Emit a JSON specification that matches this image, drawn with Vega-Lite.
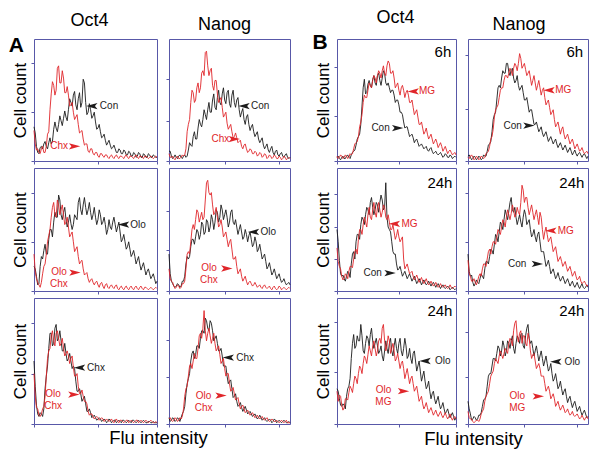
{
"$schema":"https://vega.github.io/schema/vega-lite/v6.json",
"background":"white",
"padding":{"left":8,"top":8,"right":5,"bottom":5},
"config":{
 "font":"Liberation Sans",
 "view":{"stroke":"#5858a8","strokeWidth":1},
 "axis":{"grid":false,"labels":false,"domain":false,"tickColor":"#5858a8","tickSize":3,"tickWidth":1,"titleFontWeight":"normal","titleColor":"#000","titleFontSize":17,"titlePadding":1,"titleFont":"Liberation Sans"},
 "title":{"fontSize":18,"fontWeight":"normal","baseline":"alphabetic","offset":5,"color":"#000","font":"Liberation Sans"}
},
"datasets":{
"a11":[{"x":0,"k":28,"r":25},{"x":1,"k":23,"r":14},{"x":2,"k":12,"r":9},{"x":3,"k":7,"r":10},{"x":4,"k":6,"r":7},{"x":5,"k":11,"r":6},{"x":6,"k":12,"r":10},{"x":7,"k":10,"r":12},{"x":8,"k":14,"r":7},{"x":9,"k":16,"r":7},{"x":10,"k":12,"r":12},{"x":11,"k":10,"r":22},{"x":12,"k":15,"r":24},{"x":13,"k":19,"r":42},{"x":14,"k":14,"r":55},{"x":15,"k":16,"r":65},{"x":16,"k":26,"r":62},{"x":17,"k":32,"r":54},{"x":18,"k":27,"r":58},{"x":19,"k":24,"r":76},{"x":20,"k":30,"r":78},{"x":21,"k":37,"r":64},{"x":22,"k":33,"r":64},{"x":23,"k":29,"r":74},{"x":24,"k":35,"r":68},{"x":25,"k":41,"r":56},{"x":26,"k":36,"r":56},{"x":27,"k":33,"r":61},{"x":28,"k":42,"r":54},{"x":29,"k":51,"r":45},{"x":30,"k":48,"r":46},{"x":31,"k":45,"r":48},{"x":32,"k":54,"r":40},{"x":33,"k":57,"r":34},{"x":34,"k":46,"r":36},{"x":35,"k":42,"r":38},{"x":36,"k":51,"r":30},{"x":37,"k":56,"r":23},{"x":38,"k":44,"r":24},{"x":39,"k":48,"r":25},{"x":40,"k":67,"r":18},{"x":41,"k":64,"r":13},{"x":42,"k":48,"r":14},{"x":43,"k":38,"r":14},{"x":44,"k":40,"r":8},{"x":45,"k":47,"r":7},{"x":46,"k":42,"r":10},{"x":47,"k":35,"r":10},{"x":48,"k":37,"r":6},{"x":49,"k":40,"r":5},{"x":50,"k":32,"r":7},{"x":51,"k":26,"r":7},{"x":52,"k":27,"r":4},{"x":53,"k":30,"r":3},{"x":54,"k":24,"r":6},{"x":55,"k":19,"r":6},{"x":56,"k":20,"r":4},{"x":57,"k":22,"r":3},{"x":58,"k":17,"r":5},{"x":59,"k":13,"r":5},{"x":60,"k":15,"r":3},{"x":61,"k":17,"r":2},{"x":62,"k":13,"r":4},{"x":63,"k":10,"r":5},{"x":64,"k":11,"r":3},{"x":65,"k":13,"r":2},{"x":66,"k":10,"r":4},{"x":67,"k":7,"r":5},{"x":68,"k":7,"r":3},{"x":69,"k":10,"r":2},{"x":70,"k":9,"r":4},{"x":71,"k":6,"r":4},{"x":72,"k":6,"r":3},{"x":73,"k":9,"r":2},{"x":74,"k":8,"r":4},{"x":75,"k":5,"r":5},{"x":76,"k":5,"r":3},{"x":77,"k":8,"r":2},{"x":78,"k":7,"r":4},{"x":79,"k":4,"r":4},{"x":80,"k":4,"r":3},{"x":81,"k":7,"r":2},{"x":82,"k":6,"r":4},{"x":83,"k":3,"r":5},{"x":84,"k":4,"r":3},{"x":85,"k":7,"r":2},{"x":86,"k":6,"r":4},{"x":87,"k":3,"r":4},{"x":88,"k":3,"r":3},{"x":89,"k":6,"r":2},{"x":90,"k":5,"r":4},{"x":91,"k":3,"r":4},{"x":92,"k":3,"r":3},{"x":93,"k":6,"r":2},{"x":94,"k":5,"r":3},{"x":95,"k":3,"r":4},{"x":96,"k":3,"r":3},{"x":97,"k":5,"r":2},{"x":98,"k":4,"r":3},{"x":99,"k":3,"r":4},{"x":100,"k":3,"r":3}],
"a12":[{"x":0,"k":8,"r":6},{"x":1,"k":8,"r":3},{"x":2,"k":4,"r":3},{"x":3,"k":2,"r":4},{"x":4,"k":3,"r":2},{"x":5,"k":5,"r":1},{"x":6,"k":3,"r":3},{"x":7,"k":2,"r":4},{"x":8,"k":4,"r":2},{"x":9,"k":5,"r":2},{"x":10,"k":3,"r":3},{"x":11,"k":2,"r":5},{"x":12,"k":4,"r":4},{"x":13,"k":5,"r":5},{"x":14,"k":3,"r":10},{"x":15,"k":4,"r":24},{"x":16,"k":9,"r":30},{"x":17,"k":15,"r":34},{"x":18,"k":13,"r":48},{"x":19,"k":12,"r":58},{"x":20,"k":20,"r":56},{"x":21,"k":24,"r":48},{"x":22,"k":18,"r":50},{"x":23,"k":18,"r":60},{"x":24,"k":27,"r":64},{"x":25,"k":34,"r":56},{"x":26,"k":30,"r":60},{"x":27,"k":28,"r":72},{"x":28,"k":34,"r":74},{"x":29,"k":42,"r":70},{"x":30,"k":38,"r":89},{"x":31,"k":34,"r":90},{"x":32,"k":42,"r":78},{"x":33,"k":48,"r":70},{"x":34,"k":40,"r":74},{"x":35,"k":40,"r":76},{"x":36,"k":50,"r":62},{"x":37,"k":55,"r":58},{"x":38,"k":44,"r":66},{"x":39,"k":42,"r":66},{"x":40,"k":52,"r":55},{"x":41,"k":58,"r":48},{"x":42,"k":48,"r":50},{"x":43,"k":46,"r":52},{"x":44,"k":55,"r":44},{"x":45,"k":60,"r":36},{"x":46,"k":50,"r":38},{"x":47,"k":47,"r":40},{"x":48,"k":56,"r":31},{"x":49,"k":58,"r":26},{"x":50,"k":47,"r":28},{"x":51,"k":44,"r":30},{"x":52,"k":54,"r":24},{"x":53,"k":58,"r":19},{"x":54,"k":48,"r":20},{"x":55,"k":44,"r":23},{"x":56,"k":50,"r":19},{"x":57,"k":52,"r":15},{"x":58,"k":42,"r":16},{"x":59,"k":36,"r":17},{"x":60,"k":40,"r":12},{"x":61,"k":43,"r":10},{"x":62,"k":34,"r":13},{"x":63,"k":30,"r":14},{"x":64,"k":36,"r":10},{"x":65,"k":38,"r":7},{"x":66,"k":30,"r":8},{"x":67,"k":25,"r":10},{"x":68,"k":28,"r":9},{"x":69,"k":30,"r":6},{"x":70,"k":24,"r":6},{"x":71,"k":20,"r":8},{"x":72,"k":22,"r":7},{"x":73,"k":24,"r":4},{"x":74,"k":18,"r":5},{"x":75,"k":15,"r":7},{"x":76,"k":17,"r":6},{"x":77,"k":19,"r":3},{"x":78,"k":13,"r":4},{"x":79,"k":10,"r":6},{"x":80,"k":12,"r":5},{"x":81,"k":14,"r":2},{"x":82,"k":9,"r":3},{"x":83,"k":7,"r":5},{"x":84,"k":10,"r":4},{"x":85,"k":12,"r":2},{"x":86,"k":7,"r":3},{"x":87,"k":5,"r":5},{"x":88,"k":8,"r":4},{"x":89,"k":9,"r":2},{"x":90,"k":5,"r":2},{"x":91,"k":4,"r":4},{"x":92,"k":6,"r":3},{"x":93,"k":7,"r":1},{"x":94,"k":4,"r":2},{"x":95,"k":3,"r":4},{"x":96,"k":5,"r":3},{"x":97,"k":6,"r":1},{"x":98,"k":3,"r":2},{"x":99,"k":2,"r":3},{"x":100,"k":3,"r":2}],
"b11":[{"x":0,"k":3,"r":4},{"x":1,"k":4,"r":2},{"x":2,"k":2,"r":3},{"x":3,"k":1,"r":5},{"x":4,"k":3,"r":4},{"x":5,"k":4,"r":2},{"x":6,"k":2,"r":3},{"x":7,"k":2,"r":5},{"x":8,"k":4,"r":4},{"x":9,"k":5,"r":2},{"x":10,"k":3,"r":3},{"x":11,"k":2,"r":6},{"x":12,"k":5,"r":5},{"x":13,"k":7,"r":6},{"x":14,"k":8,"r":10},{"x":15,"k":9,"r":14},{"x":16,"k":13,"r":15},{"x":17,"k":18,"r":16},{"x":18,"k":20,"r":20},{"x":19,"k":22,"r":28},{"x":20,"k":30,"r":32},{"x":21,"k":45,"r":38},{"x":22,"k":60,"r":48},{"x":23,"k":67,"r":54},{"x":24,"k":55,"r":52},{"x":25,"k":56,"r":52},{"x":26,"k":63,"r":58},{"x":27,"k":66,"r":64},{"x":28,"k":62,"r":62},{"x":29,"k":60,"r":60},{"x":30,"k":67,"r":66},{"x":31,"k":70,"r":70},{"x":32,"k":64,"r":68},{"x":33,"k":62,"r":64},{"x":34,"k":70,"r":70},{"x":35,"k":72,"r":74},{"x":36,"k":66,"r":72},{"x":37,"k":62,"r":68},{"x":38,"k":68,"r":74},{"x":39,"k":74,"r":78},{"x":40,"k":72,"r":72},{"x":41,"k":64,"r":70},{"x":42,"k":62,"r":78},{"x":43,"k":64,"r":82},{"x":44,"k":60,"r":80},{"x":45,"k":56,"r":72},{"x":46,"k":58,"r":72},{"x":47,"k":58,"r":74},{"x":48,"k":54,"r":68},{"x":49,"k":48,"r":60},{"x":50,"k":50,"r":62},{"x":51,"k":50,"r":64},{"x":52,"k":46,"r":58},{"x":53,"k":40,"r":54},{"x":54,"k":40,"r":60},{"x":55,"k":38,"r":62},{"x":56,"k":32,"r":58},{"x":57,"k":27,"r":52},{"x":58,"k":28,"r":56},{"x":59,"k":28,"r":58},{"x":60,"k":24,"r":54},{"x":61,"k":20,"r":48},{"x":62,"k":21,"r":48},{"x":63,"k":22,"r":50},{"x":64,"k":19,"r":44},{"x":65,"k":15,"r":38},{"x":66,"k":17,"r":40},{"x":67,"k":18,"r":42},{"x":68,"k":15,"r":36},{"x":69,"k":12,"r":30},{"x":70,"k":13,"r":30},{"x":71,"k":14,"r":32},{"x":72,"k":12,"r":27},{"x":73,"k":10,"r":22},{"x":74,"k":11,"r":24},{"x":75,"k":12,"r":27},{"x":76,"k":9,"r":22},{"x":77,"k":8,"r":18},{"x":78,"k":10,"r":20},{"x":79,"k":11,"r":22},{"x":80,"k":8,"r":18},{"x":81,"k":6,"r":14},{"x":82,"k":7,"r":16},{"x":83,"k":8,"r":18},{"x":84,"k":6,"r":15},{"x":85,"k":5,"r":11},{"x":86,"k":6,"r":13},{"x":87,"k":7,"r":15},{"x":88,"k":5,"r":12},{"x":89,"k":3,"r":8},{"x":90,"k":4,"r":10},{"x":91,"k":6,"r":12},{"x":92,"k":5,"r":9},{"x":93,"k":3,"r":6},{"x":94,"k":3,"r":8},{"x":95,"k":5,"r":9},{"x":96,"k":4,"r":7},{"x":97,"k":2,"r":5},{"x":98,"k":3,"r":6},{"x":99,"k":4,"r":7},{"x":100,"k":3,"r":5}],
"b12":[{"x":0,"k":4,"r":3},{"x":1,"k":5,"r":2},{"x":2,"k":3,"r":4},{"x":3,"k":1,"r":5},{"x":4,"k":2,"r":3},{"x":5,"k":4,"r":1},{"x":6,"k":3,"r":2},{"x":7,"k":1,"r":4},{"x":8,"k":2,"r":3},{"x":9,"k":4,"r":1},{"x":10,"k":3,"r":2},{"x":11,"k":1,"r":4},{"x":12,"k":2,"r":3},{"x":13,"k":5,"r":2},{"x":14,"k":4,"r":3},{"x":15,"k":4,"r":6},{"x":16,"k":8,"r":7},{"x":17,"k":13,"r":8},{"x":18,"k":14,"r":12},{"x":19,"k":16,"r":18},{"x":20,"k":24,"r":20},{"x":21,"k":34,"r":26},{"x":22,"k":38,"r":36},{"x":23,"k":40,"r":42},{"x":24,"k":50,"r":44},{"x":25,"k":60,"r":46},{"x":26,"k":62,"r":52},{"x":27,"k":60,"r":58},{"x":28,"k":68,"r":60},{"x":29,"k":74,"r":60},{"x":30,"k":72,"r":66},{"x":31,"k":72,"r":70},{"x":32,"k":80,"r":70},{"x":33,"k":80,"r":68},{"x":34,"k":73,"r":72},{"x":35,"k":70,"r":76},{"x":36,"k":75,"r":74},{"x":37,"k":76,"r":70},{"x":38,"k":68,"r":76},{"x":39,"k":64,"r":80},{"x":40,"k":66,"r":78},{"x":41,"k":70,"r":74},{"x":42,"k":62,"r":80},{"x":43,"k":58,"r":88},{"x":44,"k":60,"r":84},{"x":45,"k":62,"r":76},{"x":46,"k":56,"r":78},{"x":47,"k":50,"r":80},{"x":48,"k":50,"r":75},{"x":49,"k":52,"r":70},{"x":50,"k":46,"r":72},{"x":51,"k":40,"r":74},{"x":52,"k":42,"r":68},{"x":53,"k":42,"r":62},{"x":54,"k":36,"r":66},{"x":55,"k":30,"r":70},{"x":56,"k":30,"r":64},{"x":57,"k":32,"r":58},{"x":58,"k":28,"r":62},{"x":59,"k":24,"r":66},{"x":60,"k":26,"r":60},{"x":61,"k":28,"r":54},{"x":62,"k":23,"r":58},{"x":63,"k":20,"r":60},{"x":64,"k":22,"r":52},{"x":65,"k":24,"r":46},{"x":66,"k":20,"r":48},{"x":67,"k":16,"r":50},{"x":68,"k":18,"r":44},{"x":69,"k":20,"r":38},{"x":70,"k":17,"r":40},{"x":71,"k":14,"r":42},{"x":72,"k":16,"r":34},{"x":73,"k":18,"r":28},{"x":74,"k":14,"r":30},{"x":75,"k":11,"r":32},{"x":76,"k":13,"r":27},{"x":77,"k":15,"r":22},{"x":78,"k":12,"r":26},{"x":79,"k":9,"r":28},{"x":80,"k":11,"r":22},{"x":81,"k":13,"r":18},{"x":82,"k":10,"r":20},{"x":83,"k":7,"r":22},{"x":84,"k":9,"r":18},{"x":85,"k":11,"r":14},{"x":86,"k":8,"r":16},{"x":87,"k":5,"r":18},{"x":88,"k":7,"r":14},{"x":89,"k":9,"r":10},{"x":90,"k":6,"r":12},{"x":91,"k":4,"r":14},{"x":92,"k":6,"r":11},{"x":93,"k":7,"r":8},{"x":94,"k":5,"r":9},{"x":95,"k":3,"r":11},{"x":96,"k":5,"r":8},{"x":97,"k":6,"r":6},{"x":98,"k":4,"r":7},{"x":99,"k":2,"r":8},{"x":100,"k":4,"r":6}],
"a21":[{"x":0,"k":20,"r":30},{"x":1,"k":18,"r":16},{"x":2,"k":12,"r":10},{"x":3,"k":5,"r":7},{"x":4,"k":6,"r":5},{"x":5,"k":20,"r":3},{"x":6,"k":28,"r":7},{"x":7,"k":26,"r":14},{"x":8,"k":33,"r":20},{"x":9,"k":38,"r":22},{"x":10,"k":30,"r":30},{"x":11,"k":30,"r":40},{"x":12,"k":42,"r":45},{"x":13,"k":50,"r":50},{"x":14,"k":50,"r":60},{"x":15,"k":44,"r":68},{"x":16,"k":56,"r":72},{"x":17,"k":64,"r":62},{"x":18,"k":60,"r":60},{"x":19,"k":60,"r":74},{"x":20,"k":78,"r":70},{"x":21,"k":74,"r":62},{"x":22,"k":62,"r":66},{"x":23,"k":58,"r":70},{"x":24,"k":64,"r":62},{"x":25,"k":68,"r":54},{"x":26,"k":58,"r":56},{"x":27,"k":52,"r":60},{"x":28,"k":56,"r":52},{"x":29,"k":62,"r":44},{"x":30,"k":55,"r":46},{"x":31,"k":50,"r":48},{"x":32,"k":54,"r":40},{"x":33,"k":62,"r":32},{"x":34,"k":60,"r":34},{"x":35,"k":58,"r":36},{"x":36,"k":72,"r":28},{"x":37,"k":76,"r":22},{"x":38,"k":66,"r":24},{"x":39,"k":62,"r":25},{"x":40,"k":70,"r":18},{"x":41,"k":76,"r":13},{"x":42,"k":68,"r":14},{"x":43,"k":62,"r":15},{"x":44,"k":66,"r":10},{"x":45,"k":72,"r":7},{"x":46,"k":64,"r":9},{"x":47,"k":58,"r":10},{"x":48,"k":62,"r":7},{"x":49,"k":68,"r":5},{"x":50,"k":60,"r":7},{"x":51,"k":54,"r":8},{"x":52,"k":58,"r":5},{"x":53,"k":66,"r":3},{"x":54,"k":62,"r":6},{"x":55,"k":54,"r":7},{"x":56,"k":56,"r":4},{"x":57,"k":60,"r":2},{"x":58,"k":54,"r":5},{"x":59,"k":46,"r":6},{"x":60,"k":50,"r":3},{"x":61,"k":58,"r":2},{"x":62,"k":52,"r":4},{"x":63,"k":50,"r":5},{"x":64,"k":56,"r":3},{"x":65,"k":60,"r":2},{"x":66,"k":54,"r":4},{"x":67,"k":48,"r":5},{"x":68,"k":52,"r":2},{"x":69,"k":56,"r":1},{"x":70,"k":48,"r":3},{"x":71,"k":40,"r":4},{"x":72,"k":42,"r":2},{"x":73,"k":46,"r":1},{"x":74,"k":40,"r":3},{"x":75,"k":34,"r":4},{"x":76,"k":36,"r":2},{"x":77,"k":40,"r":1},{"x":78,"k":34,"r":3},{"x":79,"k":28,"r":4},{"x":80,"k":30,"r":2},{"x":81,"k":33,"r":1},{"x":82,"k":28,"r":3},{"x":83,"k":22,"r":4},{"x":84,"k":25,"r":2},{"x":85,"k":28,"r":1},{"x":86,"k":22,"r":3},{"x":87,"k":17,"r":4},{"x":88,"k":20,"r":2},{"x":89,"k":23,"r":1},{"x":90,"k":18,"r":3},{"x":91,"k":13,"r":3},{"x":92,"k":16,"r":2},{"x":93,"k":18,"r":1},{"x":94,"k":14,"r":2},{"x":95,"k":10,"r":3},{"x":96,"k":12,"r":2},{"x":97,"k":14,"r":1},{"x":98,"k":10,"r":2},{"x":99,"k":6,"r":3},{"x":100,"k":8,"r":2}],
"a22":[{"x":0,"k":30,"r":18},{"x":1,"k":14,"r":10},{"x":2,"k":8,"r":8},{"x":3,"k":6,"r":7},{"x":4,"k":4,"r":4},{"x":5,"k":3,"r":2},{"x":6,"k":4,"r":3},{"x":7,"k":6,"r":5},{"x":8,"k":5,"r":4},{"x":9,"k":3,"r":2},{"x":10,"k":4,"r":3},{"x":11,"k":8,"r":6},{"x":12,"k":8,"r":6},{"x":13,"k":12,"r":8},{"x":14,"k":22,"r":18},{"x":15,"k":28,"r":30},{"x":16,"k":26,"r":32},{"x":17,"k":28,"r":30},{"x":18,"k":36,"r":40},{"x":19,"k":42,"r":50},{"x":20,"k":42,"r":54},{"x":21,"k":38,"r":50},{"x":22,"k":44,"r":58},{"x":23,"k":50,"r":66},{"x":24,"k":48,"r":64},{"x":25,"k":42,"r":56},{"x":26,"k":46,"r":60},{"x":27,"k":56,"r":64},{"x":28,"k":54,"r":58},{"x":29,"k":46,"r":60},{"x":30,"k":48,"r":74},{"x":31,"k":58,"r":88},{"x":32,"k":56,"r":90},{"x":33,"k":48,"r":80},{"x":34,"k":52,"r":78},{"x":35,"k":62,"r":80},{"x":36,"k":58,"r":70},{"x":37,"k":50,"r":62},{"x":38,"k":56,"r":64},{"x":39,"k":66,"r":68},{"x":40,"k":64,"r":60},{"x":41,"k":56,"r":52},{"x":42,"k":60,"r":54},{"x":43,"k":70,"r":58},{"x":44,"k":66,"r":52},{"x":45,"k":58,"r":44},{"x":46,"k":62,"r":46},{"x":47,"k":66,"r":48},{"x":48,"k":60,"r":42},{"x":49,"k":52,"r":36},{"x":50,"k":56,"r":40},{"x":51,"k":64,"r":42},{"x":52,"k":66,"r":34},{"x":53,"k":56,"r":26},{"x":54,"k":54,"r":26},{"x":55,"k":58,"r":28},{"x":56,"k":52,"r":20},{"x":57,"k":46,"r":14},{"x":58,"k":50,"r":16},{"x":59,"k":54,"r":18},{"x":60,"k":48,"r":12},{"x":61,"k":42,"r":8},{"x":62,"k":44,"r":10},{"x":63,"k":50,"r":12},{"x":64,"k":46,"r":8},{"x":65,"k":40,"r":5},{"x":66,"k":45,"r":7},{"x":67,"k":48,"r":8},{"x":68,"k":42,"r":6},{"x":69,"k":36,"r":4},{"x":70,"k":38,"r":5},{"x":71,"k":44,"r":7},{"x":72,"k":40,"r":5},{"x":73,"k":32,"r":3},{"x":74,"k":34,"r":4},{"x":75,"k":38,"r":5},{"x":76,"k":32,"r":3},{"x":77,"k":26,"r":2},{"x":78,"k":28,"r":4},{"x":79,"k":30,"r":5},{"x":80,"k":24,"r":3},{"x":81,"k":18,"r":2},{"x":82,"k":20,"r":3},{"x":83,"k":23,"r":4},{"x":84,"k":18,"r":2},{"x":85,"k":13,"r":1},{"x":86,"k":15,"r":3},{"x":87,"k":18,"r":4},{"x":88,"k":14,"r":2},{"x":89,"k":10,"r":1},{"x":90,"k":12,"r":2},{"x":91,"k":14,"r":4},{"x":92,"k":10,"r":3},{"x":93,"k":7,"r":1},{"x":94,"k":8,"r":2},{"x":95,"k":10,"r":3},{"x":96,"k":7,"r":2},{"x":97,"k":5,"r":1},{"x":98,"k":6,"r":2},{"x":99,"k":7,"r":3},{"x":100,"k":5,"r":2}],
"b21":[{"x":0,"k":50,"r":35},{"x":1,"k":40,"r":24},{"x":2,"k":25,"r":20},{"x":3,"k":14,"r":18},{"x":4,"k":12,"r":12},{"x":5,"k":13,"r":9},{"x":6,"k":10,"r":10},{"x":7,"k":8,"r":14},{"x":8,"k":12,"r":13},{"x":9,"k":16,"r":10},{"x":10,"k":15,"r":16},{"x":11,"k":11,"r":20},{"x":12,"k":22,"r":20},{"x":13,"k":30,"r":19},{"x":14,"k":32,"r":26},{"x":15,"k":26,"r":32},{"x":16,"k":40,"r":34},{"x":17,"k":46,"r":30},{"x":18,"k":46,"r":42},{"x":19,"k":42,"r":50},{"x":20,"k":54,"r":50},{"x":21,"k":60,"r":46},{"x":22,"k":58,"r":54},{"x":23,"k":54,"r":60},{"x":24,"k":62,"r":56},{"x":25,"k":68,"r":52},{"x":26,"k":66,"r":62},{"x":27,"k":62,"r":68},{"x":28,"k":72,"r":60},{"x":29,"k":76,"r":58},{"x":30,"k":68,"r":66},{"x":31,"k":62,"r":72},{"x":32,"k":66,"r":64},{"x":33,"k":72,"r":60},{"x":34,"k":70,"r":68},{"x":35,"k":64,"r":72},{"x":36,"k":72,"r":66},{"x":37,"k":78,"r":60},{"x":38,"k":74,"r":64},{"x":39,"k":66,"r":70},{"x":40,"k":68,"r":68},{"x":41,"k":88,"r":60},{"x":42,"k":60,"r":58},{"x":43,"k":52,"r":62},{"x":44,"k":50,"r":56},{"x":45,"k":48,"r":50},{"x":46,"k":40,"r":50},{"x":47,"k":32,"r":54},{"x":48,"k":30,"r":48},{"x":49,"k":30,"r":42},{"x":50,"k":22,"r":45},{"x":51,"k":17,"r":50},{"x":52,"k":18,"r":44},{"x":53,"k":20,"r":40},{"x":54,"k":16,"r":42},{"x":55,"k":12,"r":44},{"x":56,"k":14,"r":26},{"x":57,"k":16,"r":18},{"x":58,"k":13,"r":20},{"x":59,"k":10,"r":22},{"x":60,"k":12,"r":18},{"x":61,"k":14,"r":14},{"x":62,"k":11,"r":15},{"x":63,"k":8,"r":16},{"x":64,"k":10,"r":12},{"x":65,"k":12,"r":9},{"x":66,"k":9,"r":11},{"x":67,"k":6,"r":13},{"x":68,"k":8,"r":10},{"x":69,"k":10,"r":7},{"x":70,"k":8,"r":9},{"x":71,"k":5,"r":11},{"x":72,"k":7,"r":8},{"x":73,"k":9,"r":6},{"x":74,"k":7,"r":8},{"x":75,"k":5,"r":10},{"x":76,"k":6,"r":7},{"x":77,"k":8,"r":5},{"x":78,"k":6,"r":6},{"x":79,"k":4,"r":8},{"x":80,"k":6,"r":6},{"x":81,"k":7,"r":4},{"x":82,"k":5,"r":5},{"x":83,"k":3,"r":7},{"x":84,"k":5,"r":5},{"x":85,"k":6,"r":3},{"x":86,"k":4,"r":4},{"x":87,"k":2,"r":6},{"x":88,"k":4,"r":4},{"x":89,"k":5,"r":3},{"x":90,"k":3,"r":4},{"x":91,"k":2,"r":5},{"x":92,"k":3,"r":3},{"x":93,"k":4,"r":2},{"x":94,"k":3,"r":3},{"x":95,"k":1,"r":5},{"x":96,"k":2,"r":3},{"x":97,"k":3,"r":2},{"x":98,"k":2,"r":3},{"x":99,"k":1,"r":4},{"x":100,"k":2,"r":3}],
"b22":[{"x":0,"k":30,"r":25},{"x":1,"k":16,"r":14},{"x":2,"k":12,"r":12},{"x":3,"k":13,"r":8},{"x":4,"k":7,"r":8},{"x":5,"k":4,"r":10},{"x":6,"k":6,"r":7},{"x":7,"k":9,"r":5},{"x":8,"k":7,"r":8},{"x":9,"k":6,"r":12},{"x":10,"k":10,"r":14},{"x":11,"k":14,"r":12},{"x":12,"k":12,"r":18},{"x":13,"k":10,"r":22},{"x":14,"k":18,"r":22},{"x":15,"k":24,"r":20},{"x":16,"k":24,"r":26},{"x":17,"k":22,"r":32},{"x":18,"k":28,"r":34},{"x":19,"k":34,"r":30},{"x":20,"k":33,"r":36},{"x":21,"k":30,"r":40},{"x":22,"k":38,"r":40},{"x":23,"k":46,"r":38},{"x":24,"k":44,"r":44},{"x":25,"k":40,"r":50},{"x":26,"k":48,"r":48},{"x":27,"k":56,"r":46},{"x":28,"k":54,"r":52},{"x":29,"k":50,"r":58},{"x":30,"k":58,"r":56},{"x":31,"k":66,"r":52},{"x":32,"k":62,"r":60},{"x":33,"k":58,"r":66},{"x":34,"k":65,"r":62},{"x":35,"k":72,"r":58},{"x":36,"k":76,"r":63},{"x":37,"k":66,"r":70},{"x":38,"k":64,"r":66},{"x":39,"k":68,"r":60},{"x":40,"k":60,"r":62},{"x":41,"k":54,"r":68},{"x":42,"k":58,"r":64},{"x":43,"k":62,"r":62},{"x":44,"k":56,"r":72},{"x":45,"k":52,"r":86},{"x":46,"k":60,"r":82},{"x":47,"k":66,"r":72},{"x":48,"k":62,"r":76},{"x":49,"k":54,"r":76},{"x":50,"k":56,"r":68},{"x":51,"k":58,"r":62},{"x":52,"k":50,"r":66},{"x":53,"k":44,"r":70},{"x":54,"k":46,"r":64},{"x":55,"k":50,"r":58},{"x":56,"k":44,"r":62},{"x":57,"k":40,"r":66},{"x":58,"k":46,"r":60},{"x":59,"k":48,"r":54},{"x":60,"k":40,"r":64},{"x":61,"k":32,"r":60},{"x":62,"k":32,"r":50},{"x":63,"k":32,"r":42},{"x":64,"k":26,"r":48},{"x":65,"k":20,"r":52},{"x":66,"k":22,"r":46},{"x":67,"k":25,"r":40},{"x":68,"k":20,"r":42},{"x":69,"k":14,"r":44},{"x":70,"k":16,"r":38},{"x":71,"k":18,"r":32},{"x":72,"k":14,"r":34},{"x":73,"k":10,"r":36},{"x":74,"k":12,"r":30},{"x":75,"k":15,"r":24},{"x":76,"k":11,"r":26},{"x":77,"k":8,"r":28},{"x":78,"k":10,"r":24},{"x":79,"k":12,"r":20},{"x":80,"k":9,"r":22},{"x":81,"k":6,"r":24},{"x":82,"k":8,"r":20},{"x":83,"k":10,"r":16},{"x":84,"k":7,"r":18},{"x":85,"k":4,"r":20},{"x":86,"k":6,"r":16},{"x":87,"k":8,"r":12},{"x":88,"k":5,"r":14},{"x":89,"k":3,"r":16},{"x":90,"k":5,"r":12},{"x":91,"k":7,"r":9},{"x":92,"k":4,"r":10},{"x":93,"k":2,"r":12},{"x":94,"k":4,"r":8},{"x":95,"k":6,"r":6},{"x":96,"k":3,"r":7},{"x":97,"k":2,"r":8},{"x":98,"k":3,"r":6},{"x":99,"k":5,"r":4},{"x":100,"k":3,"r":5}],
"a31":[{"x":0,"k":50,"r":40},{"x":1,"k":30,"r":22},{"x":2,"k":15,"r":13},{"x":3,"k":8,"r":12},{"x":4,"k":6,"r":7},{"x":5,"k":9,"r":6},{"x":6,"k":8,"r":8},{"x":7,"k":6,"r":12},{"x":8,"k":12,"r":14},{"x":9,"k":28,"r":22},{"x":10,"k":38,"r":38},{"x":11,"k":46,"r":52},{"x":12,"k":60,"r":58},{"x":13,"k":72,"r":60},{"x":14,"k":72,"r":70},{"x":15,"k":62,"r":74},{"x":16,"k":64,"r":66},{"x":17,"k":76,"r":62},{"x":18,"k":79,"r":72},{"x":19,"k":66,"r":74},{"x":20,"k":68,"r":68},{"x":21,"k":74,"r":62},{"x":22,"k":66,"r":64},{"x":23,"k":58,"r":68},{"x":24,"k":58,"r":60},{"x":25,"k":64,"r":54},{"x":26,"k":56,"r":56},{"x":27,"k":50,"r":58},{"x":28,"k":52,"r":54},{"x":29,"k":56,"r":48},{"x":30,"k":50,"r":52},{"x":31,"k":44,"r":54},{"x":32,"k":46,"r":45},{"x":33,"k":44,"r":38},{"x":34,"k":34,"r":38},{"x":35,"k":26,"r":40},{"x":36,"k":26,"r":30},{"x":37,"k":28,"r":24},{"x":38,"k":24,"r":24},{"x":39,"k":18,"r":27},{"x":40,"k":20,"r":22},{"x":41,"k":22,"r":18},{"x":42,"k":16,"r":18},{"x":43,"k":10,"r":16},{"x":44,"k":10,"r":10},{"x":45,"k":12,"r":7},{"x":46,"k":9,"r":8},{"x":47,"k":5,"r":8},{"x":48,"k":6,"r":6},{"x":49,"k":7,"r":4},{"x":50,"k":5,"r":5},{"x":51,"k":3,"r":6},{"x":52,"k":4,"r":5},{"x":53,"k":5,"r":3},{"x":54,"k":4,"r":4},{"x":55,"k":2,"r":5},{"x":56,"k":3,"r":4},{"x":57,"k":4,"r":2},{"x":58,"k":3,"r":3},{"x":59,"k":1,"r":4},{"x":60,"k":2,"r":3},{"x":61,"k":4,"r":2},{"x":62,"k":3,"r":3},{"x":63,"k":1,"r":4},{"x":64,"k":2,"r":2},{"x":65,"k":3,"r":1},{"x":66,"k":3,"r":3},{"x":67,"k":1,"r":4},{"x":68,"k":2,"r":2},{"x":69,"k":3,"r":1},{"x":70,"k":2,"r":3},{"x":71,"k":1,"r":3},{"x":72,"k":3,"r":2},{"x":73,"k":3,"r":1},{"x":74,"k":2,"r":2},{"x":75,"k":1,"r":3},{"x":76,"k":2,"r":3},{"x":77,"k":3,"r":1},{"x":78,"k":2,"r":2},{"x":79,"k":1,"r":3},{"x":80,"k":3,"r":2},{"x":81,"k":3,"r":1},{"x":82,"k":2,"r":2},{"x":83,"k":1,"r":3},{"x":84,"k":2,"r":3},{"x":85,"k":3,"r":1},{"x":86,"k":2,"r":2},{"x":87,"k":1,"r":3},{"x":88,"k":2,"r":2},{"x":89,"k":3,"r":1},{"x":90,"k":2,"r":2},{"x":91,"k":1,"r":3},{"x":92,"k":1,"r":2},{"x":93,"k":2,"r":1},{"x":94,"k":2,"r":2},{"x":95,"k":1,"r":3},{"x":96,"k":1,"r":2},{"x":97,"k":2,"r":1},{"x":98,"k":1,"r":1},{"x":99,"k":1,"r":2},{"x":100,"k":1,"r":1}],
"a32":[{"x":0,"k":5,"r":4},{"x":1,"k":2,"r":5},{"x":2,"k":3,"r":3},{"x":3,"k":5,"r":2},{"x":4,"k":4,"r":3},{"x":5,"k":2,"r":5},{"x":6,"k":3,"r":4},{"x":7,"k":5,"r":2},{"x":8,"k":4,"r":3},{"x":9,"k":2,"r":5},{"x":10,"k":5,"r":4},{"x":11,"k":8,"r":6},{"x":12,"k":10,"r":12},{"x":13,"k":14,"r":22},{"x":14,"k":24,"r":28},{"x":15,"k":32,"r":30},{"x":16,"k":36,"r":38},{"x":17,"k":40,"r":46},{"x":18,"k":50,"r":48},{"x":19,"k":56,"r":44},{"x":20,"k":58,"r":50},{"x":21,"k":52,"r":56},{"x":22,"k":55,"r":52},{"x":23,"k":62,"r":52},{"x":24,"k":62,"r":60},{"x":25,"k":60,"r":70},{"x":26,"k":68,"r":72},{"x":27,"k":74,"r":68},{"x":28,"k":74,"r":76},{"x":29,"k":72,"r":90},{"x":30,"k":84,"r":74},{"x":31,"k":82,"r":66},{"x":32,"k":76,"r":72},{"x":33,"k":74,"r":76},{"x":34,"k":82,"r":70},{"x":35,"k":80,"r":64},{"x":36,"k":74,"r":68},{"x":37,"k":66,"r":72},{"x":38,"k":68,"r":64},{"x":39,"k":70,"r":58},{"x":40,"k":64,"r":60},{"x":41,"k":58,"r":62},{"x":42,"k":58,"r":55},{"x":43,"k":60,"r":48},{"x":44,"k":54,"r":50},{"x":45,"k":46,"r":52},{"x":46,"k":46,"r":44},{"x":47,"k":46,"r":38},{"x":48,"k":38,"r":40},{"x":49,"k":32,"r":40},{"x":50,"k":34,"r":32},{"x":51,"k":35,"r":26},{"x":52,"k":28,"r":27},{"x":53,"k":21,"r":29},{"x":54,"k":22,"r":24},{"x":55,"k":24,"r":19},{"x":56,"k":18,"r":20},{"x":57,"k":14,"r":21},{"x":58,"k":15,"r":16},{"x":59,"k":17,"r":12},{"x":60,"k":13,"r":14},{"x":61,"k":10,"r":15},{"x":62,"k":12,"r":12},{"x":63,"k":14,"r":9},{"x":64,"k":11,"r":10},{"x":65,"k":8,"r":11},{"x":66,"k":9,"r":9},{"x":67,"k":10,"r":7},{"x":68,"k":8,"r":8},{"x":69,"k":6,"r":9},{"x":70,"k":7,"r":7},{"x":71,"k":8,"r":5},{"x":72,"k":6,"r":6},{"x":73,"k":4,"r":7},{"x":74,"k":5,"r":5},{"x":75,"k":7,"r":4},{"x":76,"k":5,"r":5},{"x":77,"k":3,"r":6},{"x":78,"k":4,"r":4},{"x":79,"k":5,"r":3},{"x":80,"k":3,"r":4},{"x":81,"k":2,"r":5},{"x":82,"k":3,"r":3},{"x":83,"k":4,"r":2},{"x":84,"k":3,"r":3},{"x":85,"k":1,"r":4},{"x":86,"k":2,"r":3},{"x":87,"k":4,"r":2},{"x":88,"k":3,"r":2},{"x":89,"k":1,"r":3},{"x":90,"k":2,"r":2},{"x":91,"k":3,"r":1},{"x":92,"k":2,"r":2},{"x":93,"k":1,"r":3},{"x":94,"k":2,"r":2},{"x":95,"k":3,"r":1},{"x":96,"k":2,"r":2},{"x":97,"k":1,"r":3},{"x":98,"k":1,"r":1},{"x":99,"k":2,"r":1},{"x":100,"k":1,"r":1}],
"b31":[{"x":0,"k":28,"r":26},{"x":1,"k":26,"r":18},{"x":2,"k":20,"r":23},{"x":3,"k":15,"r":22},{"x":4,"k":14,"r":15},{"x":5,"k":16,"r":11},{"x":6,"k":15,"r":13},{"x":7,"k":12,"r":20},{"x":8,"k":22,"r":20},{"x":9,"k":28,"r":19},{"x":10,"k":30,"r":25},{"x":11,"k":36,"r":30},{"x":12,"k":52,"r":28},{"x":13,"k":64,"r":25},{"x":14,"k":71,"r":32},{"x":15,"k":60,"r":38},{"x":16,"k":62,"r":36},{"x":17,"k":70,"r":32},{"x":18,"k":66,"r":40},{"x":19,"k":66,"r":46},{"x":20,"k":79,"r":44},{"x":21,"k":70,"r":40},{"x":22,"k":58,"r":48},{"x":23,"k":56,"r":54},{"x":24,"k":64,"r":52},{"x":25,"k":70,"r":48},{"x":26,"k":68,"r":55},{"x":27,"k":62,"r":62},{"x":28,"k":71,"r":58},{"x":29,"k":76,"r":54},{"x":30,"k":66,"r":62},{"x":31,"k":60,"r":66},{"x":32,"k":64,"r":60},{"x":33,"k":68,"r":54},{"x":34,"k":62,"r":58},{"x":35,"k":56,"r":66},{"x":36,"k":58,"r":68},{"x":37,"k":62,"r":64},{"x":38,"k":54,"r":76},{"x":39,"k":50,"r":79},{"x":40,"k":58,"r":66},{"x":41,"k":66,"r":58},{"x":42,"k":60,"r":62},{"x":43,"k":56,"r":70},{"x":44,"k":64,"r":66},{"x":45,"k":68,"r":56},{"x":46,"k":58,"r":60},{"x":47,"k":54,"r":64},{"x":48,"k":62,"r":58},{"x":49,"k":68,"r":50},{"x":50,"k":60,"r":52},{"x":51,"k":56,"r":56},{"x":52,"k":64,"r":50},{"x":53,"k":68,"r":44},{"x":54,"k":58,"r":48},{"x":55,"k":54,"r":50},{"x":56,"k":60,"r":44},{"x":57,"k":68,"r":36},{"x":58,"k":62,"r":40},{"x":59,"k":52,"r":44},{"x":60,"k":54,"r":38},{"x":61,"k":60,"r":32},{"x":62,"k":52,"r":36},{"x":63,"k":48,"r":38},{"x":64,"k":56,"r":32},{"x":65,"k":58,"r":26},{"x":66,"k":50,"r":28},{"x":67,"k":42,"r":30},{"x":68,"k":46,"r":24},{"x":69,"k":50,"r":18},{"x":70,"k":42,"r":20},{"x":71,"k":34,"r":22},{"x":72,"k":38,"r":16},{"x":73,"k":42,"r":12},{"x":74,"k":34,"r":14},{"x":75,"k":28,"r":17},{"x":76,"k":30,"r":13},{"x":77,"k":34,"r":9},{"x":78,"k":26,"r":11},{"x":79,"k":20,"r":13},{"x":80,"k":24,"r":10},{"x":81,"k":26,"r":7},{"x":82,"k":20,"r":9},{"x":83,"k":16,"r":11},{"x":84,"k":19,"r":8},{"x":85,"k":22,"r":6},{"x":86,"k":16,"r":8},{"x":87,"k":12,"r":10},{"x":88,"k":14,"r":7},{"x":89,"k":17,"r":5},{"x":90,"k":12,"r":7},{"x":91,"k":8,"r":9},{"x":92,"k":10,"r":6},{"x":93,"k":12,"r":4},{"x":94,"k":8,"r":6},{"x":95,"k":5,"r":8},{"x":96,"k":7,"r":5},{"x":97,"k":9,"r":3},{"x":98,"k":6,"r":5},{"x":99,"k":3,"r":6},{"x":100,"k":5,"r":4}],
"b32":[{"x":0,"k":18,"r":10},{"x":1,"k":12,"r":5},{"x":2,"k":8,"r":4},{"x":3,"k":3,"r":4},{"x":4,"k":4,"r":2},{"x":5,"k":6,"r":1},{"x":6,"k":5,"r":2},{"x":7,"k":3,"r":3},{"x":8,"k":4,"r":3},{"x":9,"k":7,"r":2},{"x":10,"k":7,"r":4},{"x":11,"k":9,"r":8},{"x":12,"k":14,"r":10},{"x":13,"k":19,"r":12},{"x":14,"k":20,"r":18},{"x":15,"k":22,"r":22},{"x":16,"k":30,"r":24},{"x":17,"k":38,"r":26},{"x":18,"k":40,"r":32},{"x":19,"k":40,"r":38},{"x":20,"k":46,"r":40},{"x":21,"k":52,"r":42},{"x":22,"k":52,"r":48},{"x":23,"k":50,"r":52},{"x":24,"k":56,"r":50},{"x":25,"k":62,"r":48},{"x":26,"k":60,"r":54},{"x":27,"k":54,"r":58},{"x":28,"k":58,"r":55},{"x":29,"k":66,"r":52},{"x":30,"k":62,"r":56},{"x":31,"k":54,"r":60},{"x":32,"k":58,"r":58},{"x":33,"k":66,"r":56},{"x":34,"k":64,"r":64},{"x":35,"k":60,"r":68},{"x":36,"k":66,"r":66},{"x":37,"k":70,"r":62},{"x":38,"k":60,"r":74},{"x":39,"k":56,"r":80},{"x":40,"k":64,"r":82},{"x":41,"k":70,"r":70},{"x":42,"k":68,"r":65},{"x":43,"k":64,"r":72},{"x":44,"k":71,"r":74},{"x":45,"k":72,"r":64},{"x":46,"k":62,"r":70},{"x":47,"k":60,"r":70},{"x":48,"k":70,"r":64},{"x":49,"k":76,"r":62},{"x":50,"k":79,"r":72},{"x":51,"k":68,"r":68},{"x":52,"k":64,"r":58},{"x":53,"k":66,"r":52},{"x":54,"k":60,"r":55},{"x":55,"k":54,"r":56},{"x":56,"k":58,"r":50},{"x":57,"k":62,"r":44},{"x":58,"k":56,"r":46},{"x":59,"k":50,"r":48},{"x":60,"k":54,"r":44},{"x":61,"k":58,"r":38},{"x":62,"k":52,"r":38},{"x":63,"k":46,"r":38},{"x":64,"k":50,"r":32},{"x":65,"k":54,"r":26},{"x":66,"k":48,"r":28},{"x":67,"k":42,"r":30},{"x":68,"k":44,"r":26},{"x":69,"k":48,"r":20},{"x":70,"k":40,"r":22},{"x":71,"k":34,"r":24},{"x":72,"k":36,"r":20},{"x":73,"k":40,"r":14},{"x":74,"k":34,"r":16},{"x":75,"k":28,"r":18},{"x":76,"k":30,"r":14},{"x":77,"k":34,"r":11},{"x":78,"k":28,"r":13},{"x":79,"k":23,"r":15},{"x":80,"k":26,"r":12},{"x":81,"k":28,"r":9},{"x":82,"k":22,"r":10},{"x":83,"k":17,"r":12},{"x":84,"k":20,"r":9},{"x":85,"k":22,"r":7},{"x":86,"k":17,"r":8},{"x":87,"k":13,"r":10},{"x":88,"k":16,"r":7},{"x":89,"k":18,"r":6},{"x":90,"k":14,"r":7},{"x":91,"k":10,"r":8},{"x":92,"k":12,"r":6},{"x":93,"k":14,"r":4},{"x":94,"k":10,"r":5},{"x":95,"k":7,"r":7},{"x":96,"k":9,"r":5},{"x":97,"k":11,"r":3},{"x":98,"k":8,"r":5},{"x":99,"k":5,"r":6},{"x":100,"k":6,"r":4}],
"a11n":[{"x":47,"v":45,"d":"L","c":"k"},{"x":61,"v":45,"t":"Con","c":"k"},{"x":33,"v":12,"d":"R","c":"r"},{"x":20.5,"v":12,"t":"Chx","c":"r"}],
"a12n":[{"x":62,"v":45,"d":"L","c":"k"},{"x":75.4,"v":45,"t":"Con","c":"k"},{"x":54,"v":18,"d":"R","c":"r"},{"x":42.5,"v":18,"t":"Chx","c":"r"}],
"b11n":[{"x":51,"v":27,"d":"R","c":"k"},{"x":36.6,"v":27,"t":"Con","c":"k"},{"x":64,"v":57,"d":"L","c":"r"},{"x":75.7,"v":57,"t":"MG","c":"r"}],
"b12n":[{"x":50.8,"v":29,"d":"R","c":"k"},{"x":37.2,"v":29,"t":"Con","c":"k"},{"x":67.5,"v":58,"d":"L","c":"r"},{"x":79.4,"v":58,"t":"MG","c":"r"}],
"a21n":[{"x":72.8,"v":54,"d":"L","c":"k"},{"x":84.5,"v":54,"t":"Olo","c":"k"},{"x":33.3,"v":15,"d":"R","c":"r"},{"x":20.3,"v":15.4,"t":"Olo\nChx","c":"r"}],
"a22n":[{"x":69.8,"v":48,"d":"L","c":"k"},{"x":82,"v":48,"t":"Olo","c":"k"},{"x":47.8,"v":18.3,"d":"R","c":"r"},{"x":33,"v":18.6,"t":"Olo\nChx","c":"r"}],
"b21n":[{"x":44.6,"v":14.6,"d":"R","c":"k"},{"x":30,"v":14.6,"t":"Con","c":"k"},{"x":48.2,"v":54.6,"d":"L","c":"r"},{"x":61,"v":54.6,"t":"MG","c":"r"}],
"b22n":[{"x":57.8,"v":22,"d":"R","c":"k"},{"x":41,"v":22,"t":"Con","c":"k"},{"x":69,"v":49,"d":"L","c":"r"},{"x":81.4,"v":49,"t":"MG","c":"r"}],
"a31n":[{"x":37,"v":44.7,"d":"L","c":"k"},{"x":50.4,"v":44.7,"t":"Chx","c":"k"},{"x":32.4,"v":23.4,"d":"R","c":"r"},{"x":15.5,"v":24,"t":"Olo\nChx","c":"r"}],
"a32n":[{"x":49,"v":52.7,"d":"L","c":"k"},{"x":63,"v":52.7,"t":"Chx","c":"k"},{"x":43,"v":22.6,"d":"R","c":"r"},{"x":28.6,"v":22,"t":"Olo\nChx","c":"r"}],
"b31n":[{"x":74,"v":50,"d":"L","c":"k"},{"x":88.8,"v":50,"t":"Olo","c":"k"},{"x":55.9,"v":26,"d":"R","c":"r"},{"x":39,"v":26.6,"t":"Olo\nMG","c":"r"}],
"b32n":[{"x":73.2,"v":49.5,"d":"L","c":"k"},{"x":87,"v":49.5,"t":"Olo","c":"k"},{"x":58.6,"v":22,"d":"R","c":"r"},{"x":41,"v":22.3,"t":"Olo\nMG","c":"r"}]
},
"columns":5,
"spacing":{"row":7,"column":12},
"bounds":"flush",
"align":"each",
"concat":[
{"width":123,"height":122,"title":{"text":"Oct4","dx":-6},
 "encoding":{"x":{"field":"x","type":"quantitative","scale":{"domain":[0,100],"nice":false,"zero":false},"axis":{"values":[0,52,100],"title":null}},
  "y":{"field":"v","type":"quantitative","scale":{"domain":[0,100],"nice":false},"axis":{"values":[0,40,80],"title":"Cell count"}},
  "color":{"field":"c","type":"nominal","scale":{"domain":["k","r"],"range":["#1c1c1c","#e0262a"]},"legend":null}},
 "layer":[
  {"data":{"name":"a11"},"transform":[{"fold":["k","r"],"as":["c","v"]}],"mark":{"type":"line","strokeWidth":1,"opacity":0.9}},
  {"data":{"name":"a11n"},"transform":[{"filter":"datum.d"}],"mark":{"type":"point","filled":true,"size":130,"opacity":1},"encoding":{"shape":{"field":"d","type":"nominal","scale":{"domain":["L","R"],"range":["M-1,0L1,-0.55L0.55,0L1,0.55Z","M1,0L-1,-0.55L-0.55,0L-1,0.55Z"]},"legend":null}}},
  {"data":{"name":"a11n"},"transform":[{"filter":"datum.t"}],"mark":{"type":"text","fontSize":10,"lineBreak":"\n","baseline":"middle"},"encoding":{"text":{"field":"t"}}},
  {"data":{"values":[{"x":-14.4,"v":89,"t":"A"}]},"mark":{"type":"text","fontSize":21,"fontWeight":"bold","baseline":"alphabetic"},"encoding":{"text":{"field":"t"},"color":{"value":"#000"}}}
 ]},
{"width":121,"height":122,"title":{"text":"Nanog","dx":-5},
 "encoding":{"x":{"field":"x","type":"quantitative","scale":{"domain":[0,100],"nice":false,"zero":false},"axis":{"values":[0,46,91],"title":null}},
  "y":{"field":"v","type":"quantitative","scale":{"domain":[0,100],"nice":false},"axis":{"values":[0,33,67],"title":null}},
  "color":{"field":"c","type":"nominal","scale":{"domain":["k","r"],"range":["#1c1c1c","#e0262a"]},"legend":null}},
 "layer":[
  {"data":{"name":"a12"},"transform":[{"fold":["k","r"],"as":["c","v"]}],"mark":{"type":"line","strokeWidth":1,"opacity":0.9}},
  {"data":{"name":"a12n"},"transform":[{"filter":"datum.d"}],"mark":{"type":"point","filled":true,"size":130,"opacity":1},"encoding":{"shape":{"field":"d","type":"nominal","scale":{"domain":["L","R"],"range":["M-1,0L1,-0.55L0.55,0L1,0.55Z","M1,0L-1,-0.55L-0.55,0L-1,0.55Z"]},"legend":null}}},
  {"data":{"name":"a12n"},"transform":[{"filter":"datum.t"}],"mark":{"type":"text","fontSize":10,"lineBreak":"\n","baseline":"middle"},"encoding":{"text":{"field":"t"}}}
 ]},
{"width":23,"height":20,"data":{"values":[]},"mark":"point","view":{"stroke":null}},
{"width":119,"height":122,"title":{"text":"Oct4","dx":-1},
 "encoding":{"x":{"field":"x","type":"quantitative","scale":{"domain":[0,100],"nice":false,"zero":false},"axis":{"values":[0,52,100],"title":null}},
  "y":{"field":"v","type":"quantitative","scale":{"domain":[0,100],"nice":false},"axis":{"values":[0,37,77],"title":"Cell count"}},
  "color":{"field":"c","type":"nominal","scale":{"domain":["k","r"],"range":["#1c1c1c","#e0262a"]},"legend":null}},
 "layer":[
  {"data":{"name":"b11"},"transform":[{"fold":["k","r"],"as":["c","v"]}],"mark":{"type":"line","strokeWidth":1,"opacity":0.9}},
  {"data":{"name":"b11n"},"transform":[{"filter":"datum.d"}],"mark":{"type":"point","filled":true,"size":130,"opacity":1},"encoding":{"shape":{"field":"d","type":"nominal","scale":{"domain":["L","R"],"range":["M-1,0L1,-0.55L0.55,0L1,0.55Z","M1,0L-1,-0.55L-0.55,0L-1,0.55Z"]},"legend":null}}},
  {"data":{"name":"b11n"},"transform":[{"filter":"datum.t"}],"mark":{"type":"text","fontSize":10,"lineBreak":"\n","baseline":"middle"},"encoding":{"text":{"field":"t"}}},
  {"data":{"values":[{"x":-14.3,"v":92,"t":"B"}]},"mark":{"type":"text","fontSize":21,"fontWeight":"bold","baseline":"alphabetic"},"encoding":{"text":{"field":"t"},"color":{"value":"#000"}}},
  {"data":{"values":[{"x":96,"v":85,"t":"6h"}]},"mark":{"type":"text","fontSize":15,"align":"right","baseline":"alphabetic"},"encoding":{"text":{"field":"t"},"color":{"value":"#000"}}}
 ]},
{"width":120,"height":122,"title":{"text":"Nanog","dx":-9},
 "encoding":{"x":{"field":"x","type":"quantitative","scale":{"domain":[0,100],"nice":false,"zero":false},"axis":{"values":[0,47,91],"title":null}},
  "y":{"field":"v","type":"quantitative","scale":{"domain":[0,100],"nice":false},"axis":{"values":[0,43,87],"title":null}},
  "color":{"field":"c","type":"nominal","scale":{"domain":["k","r"],"range":["#1c1c1c","#e0262a"]},"legend":null}},
 "layer":[
  {"data":{"name":"b12"},"transform":[{"fold":["k","r"],"as":["c","v"]}],"mark":{"type":"line","strokeWidth":1,"opacity":0.9}},
  {"data":{"name":"b12n"},"transform":[{"filter":"datum.d"}],"mark":{"type":"point","filled":true,"size":130,"opacity":1},"encoding":{"shape":{"field":"d","type":"nominal","scale":{"domain":["L","R"],"range":["M-1,0L1,-0.55L0.55,0L1,0.55Z","M1,0L-1,-0.55L-0.55,0L-1,0.55Z"]},"legend":null}}},
  {"data":{"name":"b12n"},"transform":[{"filter":"datum.t"}],"mark":{"type":"text","fontSize":10,"lineBreak":"\n","baseline":"middle"},"encoding":{"text":{"field":"t"}}},
  {"data":{"values":[{"x":96,"v":85,"t":"6h"}]},"mark":{"type":"text","fontSize":15,"align":"right","baseline":"alphabetic"},"encoding":{"text":{"field":"t"},"color":{"value":"#000"}}}
 ]},
{"width":123,"height":123,
 "encoding":{"x":{"field":"x","type":"quantitative","scale":{"domain":[0,100],"nice":false,"zero":false},"axis":{"values":[0,52,100],"title":null}},
  "y":{"field":"v","type":"quantitative","scale":{"domain":[0,100],"nice":false},"axis":{"values":[0,40,80],"title":"Cell count"}},
  "color":{"field":"c","type":"nominal","scale":{"domain":["k","r"],"range":["#1c1c1c","#e0262a"]},"legend":null}},
 "layer":[
  {"data":{"name":"a21"},"transform":[{"fold":["k","r"],"as":["c","v"]}],"mark":{"type":"line","strokeWidth":1,"opacity":0.9}},
  {"data":{"name":"a21n"},"transform":[{"filter":"datum.d"}],"mark":{"type":"point","filled":true,"size":130,"opacity":1},"encoding":{"shape":{"field":"d","type":"nominal","scale":{"domain":["L","R"],"range":["M-1,0L1,-0.55L0.55,0L1,0.55Z","M1,0L-1,-0.55L-0.55,0L-1,0.55Z"]},"legend":null}}},
  {"data":{"name":"a21n"},"transform":[{"filter":"datum.t"}],"mark":{"type":"text","fontSize":10,"lineBreak":"\n","baseline":"middle"},"encoding":{"text":{"field":"t"}}}
 ]},
{"width":121,"height":123,
 "encoding":{"x":{"field":"x","type":"quantitative","scale":{"domain":[0,100],"nice":false,"zero":false},"axis":{"values":[0,46,91],"title":null}},
  "y":{"field":"v","type":"quantitative","scale":{"domain":[0,100],"nice":false},"axis":{"values":[0,33,65],"title":null}},
  "color":{"field":"c","type":"nominal","scale":{"domain":["k","r"],"range":["#1c1c1c","#e0262a"]},"legend":null}},
 "layer":[
  {"data":{"name":"a22"},"transform":[{"fold":["k","r"],"as":["c","v"]}],"mark":{"type":"line","strokeWidth":1,"opacity":0.9}},
  {"data":{"name":"a22n"},"transform":[{"filter":"datum.d"}],"mark":{"type":"point","filled":true,"size":130,"opacity":1},"encoding":{"shape":{"field":"d","type":"nominal","scale":{"domain":["L","R"],"range":["M-1,0L1,-0.55L0.55,0L1,0.55Z","M1,0L-1,-0.55L-0.55,0L-1,0.55Z"]},"legend":null}}},
  {"data":{"name":"a22n"},"transform":[{"filter":"datum.t"}],"mark":{"type":"text","fontSize":10,"lineBreak":"\n","baseline":"middle"},"encoding":{"text":{"field":"t"}}}
 ]},
{"width":23,"height":20,"data":{"values":[]},"mark":"point","view":{"stroke":null}},
{"width":119,"height":123,
 "encoding":{"x":{"field":"x","type":"quantitative","scale":{"domain":[0,100],"nice":false,"zero":false},"axis":{"values":[0,52,100],"title":null}},
  "y":{"field":"v","type":"quantitative","scale":{"domain":[0,100],"nice":false},"axis":{"values":[0,26,52,79],"title":"Cell count"}},
  "color":{"field":"c","type":"nominal","scale":{"domain":["k","r"],"range":["#1c1c1c","#e0262a"]},"legend":null}},
 "layer":[
  {"data":{"name":"b21"},"transform":[{"fold":["k","r"],"as":["c","v"]}],"mark":{"type":"line","strokeWidth":1,"opacity":0.9}},
  {"data":{"name":"b21n"},"transform":[{"filter":"datum.d"}],"mark":{"type":"point","filled":true,"size":130,"opacity":1},"encoding":{"shape":{"field":"d","type":"nominal","scale":{"domain":["L","R"],"range":["M-1,0L1,-0.55L0.55,0L1,0.55Z","M1,0L-1,-0.55L-0.55,0L-1,0.55Z"]},"legend":null}}},
  {"data":{"name":"b21n"},"transform":[{"filter":"datum.t"}],"mark":{"type":"text","fontSize":10,"lineBreak":"\n","baseline":"middle"},"encoding":{"text":{"field":"t"}}},
  {"data":{"values":[{"x":97,"v":84,"t":"24h"}]},"mark":{"type":"text","fontSize":15,"align":"right","baseline":"alphabetic"},"encoding":{"text":{"field":"t"},"color":{"value":"#000"}}}
 ]},
{"width":120,"height":123,
 "encoding":{"x":{"field":"x","type":"quantitative","scale":{"domain":[0,100],"nice":false,"zero":false},"axis":{"values":[0,47,91],"title":null}},
  "y":{"field":"v","type":"quantitative","scale":{"domain":[0,100],"nice":false},"axis":{"values":[0,40,80],"title":null}},
  "color":{"field":"c","type":"nominal","scale":{"domain":["k","r"],"range":["#1c1c1c","#e0262a"]},"legend":null}},
 "layer":[
  {"data":{"name":"b22"},"transform":[{"fold":["k","r"],"as":["c","v"]}],"mark":{"type":"line","strokeWidth":1,"opacity":0.9}},
  {"data":{"name":"b22n"},"transform":[{"filter":"datum.d"}],"mark":{"type":"point","filled":true,"size":130,"opacity":1},"encoding":{"shape":{"field":"d","type":"nominal","scale":{"domain":["L","R"],"range":["M-1,0L1,-0.55L0.55,0L1,0.55Z","M1,0L-1,-0.55L-0.55,0L-1,0.55Z"]},"legend":null}}},
  {"data":{"name":"b22n"},"transform":[{"filter":"datum.t"}],"mark":{"type":"text","fontSize":10,"lineBreak":"\n","baseline":"middle"},"encoding":{"text":{"field":"t"}}},
  {"data":{"values":[{"x":97,"v":84,"t":"24h"}]},"mark":{"type":"text","fontSize":15,"align":"right","baseline":"alphabetic"},"encoding":{"text":{"field":"t"},"color":{"value":"#000"}}}
 ]},
{"width":123,"height":126,
 "encoding":{"x":{"field":"x","type":"quantitative","scale":{"domain":[0,100],"nice":false,"zero":false},"axis":{"values":[0,52,100],"title":"Flu intensity","titleX":124,"titleY":19,"titleBaseline":"alphabetic","titleAlign":"center","titleFontSize":18.5}},
  "y":{"field":"v","type":"quantitative","scale":{"domain":[0,100],"nice":false},"axis":{"values":[0,40,80],"title":"Cell count"}},
  "color":{"field":"c","type":"nominal","scale":{"domain":["k","r"],"range":["#1c1c1c","#e0262a"]},"legend":null}},
 "layer":[
  {"data":{"name":"a31"},"transform":[{"fold":["k","r"],"as":["c","v"]}],"mark":{"type":"line","strokeWidth":1,"opacity":0.9}},
  {"data":{"name":"a31n"},"transform":[{"filter":"datum.d"}],"mark":{"type":"point","filled":true,"size":130,"opacity":1},"encoding":{"shape":{"field":"d","type":"nominal","scale":{"domain":["L","R"],"range":["M-1,0L1,-0.55L0.55,0L1,0.55Z","M1,0L-1,-0.55L-0.55,0L-1,0.55Z"]},"legend":null}}},
  {"data":{"name":"a31n"},"transform":[{"filter":"datum.t"}],"mark":{"type":"text","fontSize":10,"lineBreak":"\n","baseline":"middle"},"encoding":{"text":{"field":"t"}}}
 ]},
{"width":121,"height":126,
 "encoding":{"x":{"field":"x","type":"quantitative","scale":{"domain":[0,100],"nice":false,"zero":false},"axis":{"values":[0,46,91],"title":null}},
  "y":{"field":"v","type":"quantitative","scale":{"domain":[0,100],"nice":false},"axis":{"values":[0,37,67],"title":null}},
  "color":{"field":"c","type":"nominal","scale":{"domain":["k","r"],"range":["#1c1c1c","#e0262a"]},"legend":null}},
 "layer":[
  {"data":{"name":"a32"},"transform":[{"fold":["k","r"],"as":["c","v"]}],"mark":{"type":"line","strokeWidth":1,"opacity":0.9}},
  {"data":{"name":"a32n"},"transform":[{"filter":"datum.d"}],"mark":{"type":"point","filled":true,"size":130,"opacity":1},"encoding":{"shape":{"field":"d","type":"nominal","scale":{"domain":["L","R"],"range":["M-1,0L1,-0.55L0.55,0L1,0.55Z","M1,0L-1,-0.55L-0.55,0L-1,0.55Z"]},"legend":null}}},
  {"data":{"name":"a32n"},"transform":[{"filter":"datum.t"}],"mark":{"type":"text","fontSize":10,"lineBreak":"\n","baseline":"middle"},"encoding":{"text":{"field":"t"}}}
 ]},
{"width":23,"height":20,"data":{"values":[]},"mark":"point","view":{"stroke":null}},
{"width":119,"height":126,
 "encoding":{"x":{"field":"x","type":"quantitative","scale":{"domain":[0,100],"nice":false,"zero":false},"axis":{"values":[0,52,100],"title":"Flu intensity","titleX":136,"titleY":20,"titleBaseline":"alphabetic","titleAlign":"center","titleFontSize":18.5}},
  "y":{"field":"v","type":"quantitative","scale":{"domain":[0,100],"nice":false},"axis":{"values":[0,41,81],"title":"Cell count"}},
  "color":{"field":"c","type":"nominal","scale":{"domain":["k","r"],"range":["#1c1c1c","#e0262a"]},"legend":null}},
 "layer":[
  {"data":{"name":"b31"},"transform":[{"fold":["k","r"],"as":["c","v"]}],"mark":{"type":"line","strokeWidth":1,"opacity":0.9}},
  {"data":{"name":"b31n"},"transform":[{"filter":"datum.d"}],"mark":{"type":"point","filled":true,"size":130,"opacity":1},"encoding":{"shape":{"field":"d","type":"nominal","scale":{"domain":["L","R"],"range":["M-1,0L1,-0.55L0.55,0L1,0.55Z","M1,0L-1,-0.55L-0.55,0L-1,0.55Z"]},"legend":null}}},
  {"data":{"name":"b31n"},"transform":[{"filter":"datum.t"}],"mark":{"type":"text","fontSize":10,"lineBreak":"\n","baseline":"middle"},"encoding":{"text":{"field":"t"}}},
  {"data":{"values":[{"x":97,"v":86,"t":"24h"}]},"mark":{"type":"text","fontSize":15,"align":"right","baseline":"alphabetic"},"encoding":{"text":{"field":"t"},"color":{"value":"#000"}}}
 ]},
{"width":120,"height":126,
 "encoding":{"x":{"field":"x","type":"quantitative","scale":{"domain":[0,100],"nice":false,"zero":false},"axis":{"values":[0,47,91],"title":null}},
  "y":{"field":"v","type":"quantitative","scale":{"domain":[0,100],"nice":false},"axis":{"values":[0,37,73],"title":null}},
  "color":{"field":"c","type":"nominal","scale":{"domain":["k","r"],"range":["#1c1c1c","#e0262a"]},"legend":null}},
 "layer":[
  {"data":{"name":"b32"},"transform":[{"fold":["k","r"],"as":["c","v"]}],"mark":{"type":"line","strokeWidth":1,"opacity":0.9}},
  {"data":{"name":"b32n"},"transform":[{"filter":"datum.d"}],"mark":{"type":"point","filled":true,"size":130,"opacity":1},"encoding":{"shape":{"field":"d","type":"nominal","scale":{"domain":["L","R"],"range":["M-1,0L1,-0.55L0.55,0L1,0.55Z","M1,0L-1,-0.55L-0.55,0L-1,0.55Z"]},"legend":null}}},
  {"data":{"name":"b32n"},"transform":[{"filter":"datum.t"}],"mark":{"type":"text","fontSize":10,"lineBreak":"\n","baseline":"middle"},"encoding":{"text":{"field":"t"}}},
  {"data":{"values":[{"x":97,"v":86,"t":"24h"}]},"mark":{"type":"text","fontSize":15,"align":"right","baseline":"alphabetic"},"encoding":{"text":{"field":"t"},"color":{"value":"#000"}}}
 ]}
]
}
